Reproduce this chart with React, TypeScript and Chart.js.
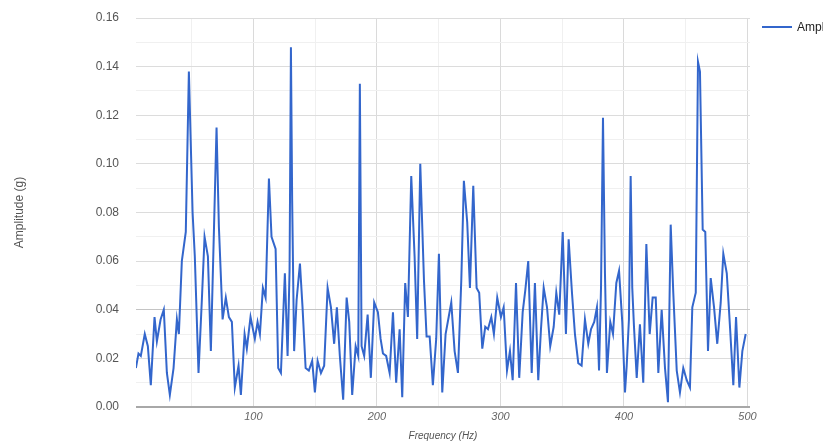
import React, { useEffect, useRef } from "react";
import { Chart, registerables } from "chart.js";

Chart.register(...registerables);

// Frequency (Hz) and amplitude (g)
const freqHz = [
  4.9, 7.0, 8.9, 12.1, 14.6, 17.0, 20.0, 21.9, 24.9, 27.5, 30.0, 32.4, 35.4, 38.1, 39.7, 42.1, 45.3, 47.8, 50.8, 52.6,
  55.6, 58.3, 60.5, 63.2, 65.6, 70.2, 72.1, 75.1, 77.7, 80.2, 82.6, 85.0, 88.0, 89.9, 92.9, 94.7, 97.7,
  101.2, 103.4, 105.3, 107.7, 109.9, 112.6, 114.7, 118.0, 120.1, 122.3, 125.5, 127.7, 129.3, 130.4, 131.4, 133.0,
  135.0, 137.7, 139.8, 142.3, 144.9, 147.6, 149.8, 152.0, 154.7, 157.3, 160.1, 162.8, 165.4, 167.6, 170.0, 172.7,
  175.5, 177.6, 180.0, 182.8, 184.9, 186.2, 187.6, 189.7, 192.5, 195.1, 197.8,
  200.8, 203.0, 204.9, 207.5, 210.3, 213.0, 215.6, 218.4, 220.5, 222.9, 225.1, 227.8, 230.5, 232.6, 235.1, 238.1,
  240.2, 242.7, 245.3, 248.0, 250.2, 252.9, 255.6, 258.1, 260.2, 262.9, 265.6, 268.3, 270.4, 273.1, 275.3, 278.0,
  280.7, 282.8, 285.3, 287.7, 289.9, 292.6, 294.7, 297.4,
  300.4, 302.6, 305.3, 307.7, 309.9, 312.6, 315.2, 318.0, 320.1, 322.5, 325.3, 327.9, 330.6, 332.8, 335.0, 337.7,
  340.3, 343.1, 345.2, 347.6, 350.4, 353.0, 355.2, 357.9, 360.3, 363.0, 365.7, 368.4, 371.1, 373.3, 375.9, 378.1,
  379.8, 381.4, 383.0, 384.6, 386.2, 388.9, 391.1, 393.8, 396.0, 398.6, 400.8,
  402.2, 404.0, 405.4, 406.7, 408.1, 410.3, 412.9, 415.6, 418.1, 420.8, 423.2, 425.7, 427.8, 430.5, 433.2, 435.6,
  437.8, 439.9, 442.7, 445.3, 448.0, 450.8, 453.4, 455.3, 458.1, 459.9, 461.5, 463.7, 465.8, 468.0, 470.2, 472.9,
  475.5, 478.3, 480.4, 483.2, 485.8, 488.5, 490.7, 493.4, 495.8, 498.5,
];

const amplitudeG = [
  0.016, 0.022, 0.021, 0.030, 0.025, 0.009, 0.037, 0.027, 0.036, 0.040, 0.014, 0.005, 0.016, 0.036, 0.030, 0.060, 0.072, 0.138, 0.080, 0.062,
  0.014, 0.044, 0.070, 0.062, 0.023, 0.115, 0.074, 0.036, 0.045, 0.037, 0.035, 0.008, 0.017, 0.005, 0.030, 0.024, 0.037,
  0.028, 0.035, 0.030, 0.049, 0.045, 0.094, 0.070, 0.065, 0.016, 0.014, 0.055, 0.021, 0.056, 0.148, 0.085, 0.023,
  0.044, 0.059, 0.041, 0.016, 0.015, 0.019, 0.006, 0.019, 0.014, 0.017, 0.049, 0.041, 0.026, 0.041, 0.021, 0.003,
  0.045, 0.035, 0.005, 0.025, 0.021, 0.133, 0.025, 0.021, 0.038, 0.012, 0.043,
  0.039, 0.028, 0.022, 0.021, 0.014, 0.039, 0.010, 0.032, 0.004, 0.051, 0.037, 0.095, 0.062, 0.028, 0.100, 0.052,
  0.029, 0.029, 0.009, 0.028, 0.063, 0.006, 0.030, 0.037, 0.043, 0.023, 0.014, 0.052, 0.093, 0.076, 0.049, 0.091,
  0.049, 0.047, 0.024, 0.033, 0.032, 0.037, 0.030, 0.045,
  0.037, 0.041, 0.015, 0.023, 0.011, 0.051, 0.012, 0.039, 0.048, 0.060, 0.014, 0.051, 0.011, 0.032, 0.049, 0.041,
  0.025, 0.033, 0.047, 0.038, 0.072, 0.030, 0.069, 0.047, 0.030, 0.018, 0.017, 0.036, 0.026, 0.032, 0.035, 0.041,
  0.015, 0.049, 0.119, 0.055, 0.014, 0.035, 0.030, 0.051, 0.056, 0.035, 0.006,
  0.017, 0.036, 0.095, 0.049, 0.033, 0.012, 0.034, 0.010, 0.067, 0.030, 0.045, 0.045, 0.014, 0.040, 0.016, 0.002,
  0.075, 0.047, 0.015, 0.006, 0.016, 0.011, 0.008, 0.041, 0.047, 0.142, 0.138, 0.073, 0.072, 0.023, 0.053, 0.041,
  0.026, 0.043, 0.063, 0.055, 0.033, 0.009, 0.037, 0.008, 0.023, 0.030,
];

const xGridValues = [50, 100, 150, 200, 250, 300, 350, 400, 450, 500];
const xLabelValues = [100, 200, 300, 400, 500];
const seriesName = "Amplitude (g)";
const xTitle = "Frequency (Hz)";
const yTitle = "Amplitude (g)";

const FONT = "'Liberation Sans', Arial, sans-serif";
const LINE = "#3366cc";

const legendPlugin = {
  id: "customLegend",
  afterDraw(chart: any) {
    const ctx = chart.ctx;
    const x0 = chart.chartArea.right + 12;
    const y0 = chart.chartArea.top + 9;
    ctx.save();
    ctx.strokeStyle = LINE;
    ctx.lineWidth = 2;
    ctx.beginPath();
    ctx.moveTo(x0, y0);
    ctx.lineTo(x0 + 30, y0);
    ctx.stroke();
    ctx.beginPath();
    ctx.rect(x0 + 32, y0 - 12, 29, 24);
    ctx.clip();
    ctx.fillStyle = "#222";
    ctx.font = `12px ${FONT}`;
    ctx.textBaseline = "middle";
    ctx.fillText(seriesName, x0 + 35, y0 + 1);
    ctx.restore();
  },
};

export default function App() {
  const ref = useRef<HTMLCanvasElement | null>(null);

  useEffect(() => {
    document.body.style.margin = "0";
    const canvas = ref.current;
    if (!canvas) return;
    const chart = new Chart(canvas, {
      type: "line",
      data: {
        datasets: [
          {
            label: seriesName,
            data: freqHz.map((f, i) => ({ x: f, y: amplitudeG[i] })),
            borderColor: LINE,
            backgroundColor: LINE,
            borderWidth: 2,
            pointRadius: 0,
            tension: 0,
          },
        ],
      },
      options: {
        responsive: false,
        animation: false,
        layout: { padding: { top: 18, right: 82, bottom: 0, left: 0 } },
        plugins: { legend: { display: false }, tooltip: { enabled: false } },
        scales: {
          x: {
            type: "linear",
            min: 5,
            max: 502,
            afterBuildTicks: (scale: any) => {
              scale.ticks = xGridValues.map((v) => ({ value: v }));
            },
            afterFit: (scale: any) => {
              scale.height = 39;
            },
            border: { display: false },
            grid: {
              drawTicks: false,
              color: (ctx: any) =>
                xLabelValues.includes(ctx.tick?.value) ? "#dadada" : "#f0f0f0",
            },
            ticks: {
              autoSkip: false,
              maxRotation: 0,
              padding: 3,
              color: "#666",
              font: { family: FONT, size: 11, style: "italic" },
              callback: (v: any) => (xLabelValues.includes(Number(v)) ? String(v) : ""),
            },
            title: {
              display: true,
              text: xTitle,
              color: "#555",
              font: { family: FONT, size: 10, style: "italic" },
              padding: { top: 0, bottom: 4 },
            },
          },
          y: {
            min: 0,
            max: 0.16,
            afterFit: (scale: any) => {
              scale.width = 136;
            },
            border: { display: false },
            grid: {
              drawTicks: true,
              tickLength: 15,
              tickColor: "rgba(0,0,0,0)",
              color: (ctx: any) => {
                const k = Math.round((ctx.tick?.value ?? 0) * 100);
                if (k === 0) return "#a8a8a8";
                if (k === 4) return "#c4c4c4";
                return k % 2 === 0 ? "#dcdcdc" : "#f0f0f0";
              },
              lineWidth: (ctx: any) =>
                Math.round((ctx.tick?.value ?? 0) * 100) === 0 ? 2 : 1,
            },
            ticks: {
              stepSize: 0.01,
              autoSkip: false,
              padding: 2,
              color: "#555",
              font: { family: FONT, size: 12 },
              callback: (v: any) => {
                const k = Math.round(Number(v) * 100);
                return k % 2 === 0 ? (k / 100).toFixed(2) : "";
              },
            },
            title: {
              display: true,
              text: yTitle,
              color: "#555",
              font: { family: FONT, size: 12 },
              padding: { top: 12, bottom: 0 },
            },
          },
        },
      },
      plugins: [legendPlugin],
    });
    return () => chart.destroy();
  }, []);

  return (
    <div style={{ position: "fixed", left: 0, top: 0, width: 832, height: 446, background: "#fff" }}>
      <canvas ref={ref} width={832} height={446} style={{ display: "block", width: 832, height: 446 }} />
    </div>
  );
}
